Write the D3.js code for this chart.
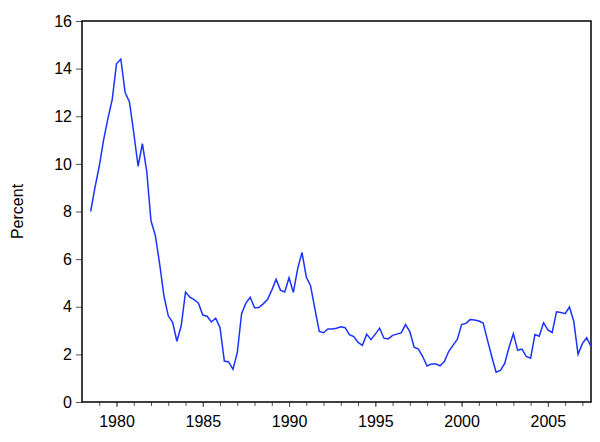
<!DOCTYPE html>
<html>
<head>
<meta charset="utf-8">
<script src="https://cdn.jsdelivr.net/npm/d3@7"></script>
<style>
  body { margin: 0; background: #fff; }
  text { font-family: "Liberation Sans", Arial, sans-serif; }
</style>
</head>
<body>
<div id="chart"></div>
<script>
// quarterly series, first obs 1978Q3
const START_YEAR = 1978.5
const rate = [
  8.0, 9.0, 9.9, 11.0, 11.9, 12.7, 14.2, 14.4, 13.0, 12.6,
  11.3, 9.9, 10.85, 9.7, 7.6, 7.0, 5.8, 4.45, 3.62, 3.35,
  2.55, 3.2, 4.62, 4.4, 4.3, 4.15, 3.65, 3.6, 3.36, 3.52,
  3.12, 1.72, 1.68, 1.37, 2.07, 3.72, 4.15, 4.4, 3.96, 3.97,
  4.12, 4.3, 4.7, 5.15, 4.7, 4.62, 5.22, 4.6, 5.6, 6.28,
  5.25, 4.87, 3.9, 2.96, 2.91, 3.07, 3.07, 3.1, 3.16, 3.12,
  2.83, 2.75, 2.5, 2.38, 2.85, 2.62, 2.85, 3.1, 2.68, 2.65,
  2.8, 2.85, 2.9, 3.25, 2.96, 2.3, 2.22, 1.9, 1.51, 1.6,
  1.6, 1.52, 1.7, 2.12, 2.38, 2.63, 3.25, 3.3, 3.46, 3.44,
  3.4, 3.32, 2.6, 1.9, 1.25, 1.33, 1.62, 2.3, 2.87, 2.17,
  2.22, 1.91, 1.84, 2.83, 2.76, 3.33, 3.03, 2.92, 3.79, 3.76,
  3.71, 3.99, 3.39, 2.0, 2.45, 2.7, 2.33
]
const yTicks = [0, 2, 4, 6, 8, 10, 12, 14, 16]
const majorYears = [1980, 1985, 1990, 1995, 2000, 2005]
const minorYears = d3.range(1979, 2008)

const W = 600, H = 442
const MARGIN = {top: 21, right: 9, bottom: 40, left: 82}

const data = rate.map((v, i) => ({t: START_YEAR + i / 4, v: v}))

const x = d3.scaleLinear()
    .domain([1978, 2007.5])
    .range([MARGIN.left, W - MARGIN.right])

const y = d3.scaleLinear()
    .domain([0, 16])
    .range([H - MARGIN.bottom, MARGIN.top])

const svg = d3.select("#chart")
  .append("svg")
    .attr("width", W)
    .attr("height", H)

// minor year ticks
svg.append("g")
    .attr("transform", `translate(0, ${y(0)})`)
    .call(d3.axisBottom(x).tickValues(minorYears).tickSize(4).tickFormat(""))
    .call(g => g.select(".domain").remove())
    .call(g => g.selectAll(".tick line").attr("stroke", "#555"))

// major year ticks + labels
svg.append("g")
    .attr("transform", `translate(0, ${y(0)})`)
    .call(d3.axisBottom(x).tickValues(majorYears).tickSize(5).tickPadding(9).tickFormat(d3.format("d")))
    .call(g => g.select(".domain").remove())
    .call(g => g.selectAll(".tick line").attr("stroke", "#555"))
    .call(g => g.selectAll("text").attr("font-size", 16).attr("fill", "#000"))

// y axis
svg.append("g")
    .attr("transform", `translate(${MARGIN.left}, 0)`)
    .call(d3.axisLeft(y).tickValues(yTicks).tickSize(6).tickPadding(4))
    .call(g => g.select(".domain").remove())
    .call(g => g.selectAll(".tick line").attr("stroke", "#555"))
    .call(g => g.selectAll("text").attr("font-size", 16).attr("fill", "#000"))

// frame
svg.append("rect")
    .attr("x", MARGIN.left)
    .attr("y", MARGIN.top)
    .attr("width", W - MARGIN.right - MARGIN.left)
    .attr("height", y(0) - MARGIN.top)
    .attr("fill", "none")
    .attr("stroke", "#000")
    .attr("stroke-width", 1.5)

// y label
svg.append("text")
    .attr("transform", `translate(23, ${(MARGIN.top + y(0)) / 2}) rotate(-90)`)
    .attr("text-anchor", "middle")
    .attr("font-size", 16)
    .text("Percent")

const line = d3.line()
    .x(d => x(d.t))
    .y(d => y(d.v))

svg.append("path")
    .datum(data)
    .attr("fill", "none")
    .attr("stroke", "#1a33ff")
    .attr("stroke-width", 1.5)
    .attr("d", line)
</script>
</body>
</html>
